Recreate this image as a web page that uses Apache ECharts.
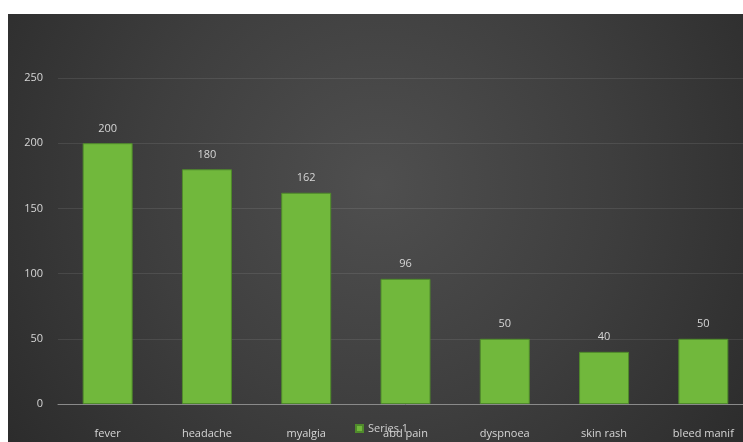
<!DOCTYPE html>
<html>
<head>
<meta charset="utf-8">
<script src="https://cdn.jsdelivr.net/npm/echarts@6/dist/echarts.min.js"></script>
<style>
html,body{margin:0;padding:0;background:#ffffff;overflow:hidden;width:743px;height:442px;}
#chart{position:absolute;left:8px;top:14px;width:752px;height:428px;
background:radial-gradient(ellipse 520px 520px at 370px 170px,#4f4f4f 0%,#3e3e3e 45%,#262626 100%);}
</style>
</head>
<body>
<div id="chart"></div>
<script>
var categories = ['fever','headache','myalgia','abd pain','dyspnoea','skin rash','bleed manif'];
var seriesValues = [200,180,162,96,50,40,50];
var yTicks = [0,50,100,150,200,250];
var seriesName = 'Series 1';

var chart = echarts.init(document.getElementById('chart'), null, {renderer:'canvas'});
chart.setOption({
  animation:false,
  backgroundColor:'transparent',
  textStyle:{fontFamily:'Open Sans'},
  legend:{
    data:[seriesName],
    left:342, top:404,
    itemWidth:7, itemHeight:7, itemGap:4,
    icon:'rect',
    textStyle:{color:'#d0d0d0',fontSize:11,fontFamily:'Open Sans'}
  },
  grid:{left:50, right:7, top:64, bottom:38, containLabel:false},
  xAxis:{
    type:'category',
    data:categories,
    axisLine:{show:true,lineStyle:{color:'#8a8a8a',width:1}},
    axisTick:{show:false},
    axisLabel:{color:'#d6d6d6',fontSize:11,margin:24,fontFamily:'Open Sans'}
  },
  yAxis:{
    type:'value',
    min:yTicks[0], max:yTicks[yTicks.length-1], interval:50,
    axisLine:{show:false},
    axisTick:{show:false},
    splitLine:{lineStyle:{color:'rgba(255,255,255,0.09)',width:1}},
    axisLabel:{color:'#d6d6d6',fontSize:11,margin:15,fontFamily:'Open Sans'}
  },
  series:[{
    name:seriesName,
    type:'bar',
    data:seriesValues,
    barWidth:50,
    itemStyle:{color:'#71b83c',borderColor:'#4f8a2b',borderWidth:1},
    label:{show:true,position:'top',distance:9,color:'#d6d6d6',fontSize:11,fontFamily:'Open Sans'}
  }]
});
</script>
</body>
</html>
